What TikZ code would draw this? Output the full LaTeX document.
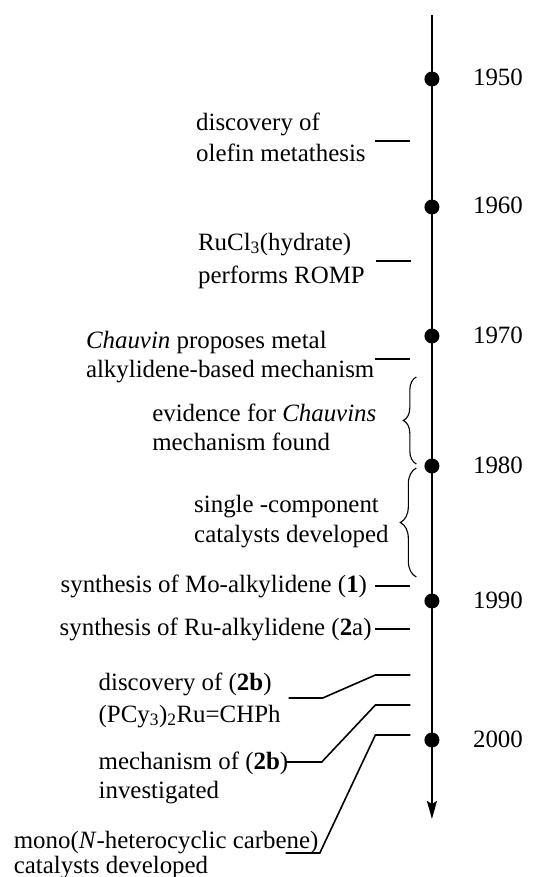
\documentclass[tikz,border=0pt]{standalone}
\usepackage{fontspec}
\setmainfont{Liberation Serif}
\usetikzlibrary{arrows.meta,decorations.pathreplacing}
\begin{document}
\begin{tikzpicture}[x=0.975pt,y=-1pt,
  lbl/.style={font=\fontsize{24.9}{30}\selectfont, inner sep=0pt, anchor=base west},
  tickline/.style={line width=1.6pt},
  yeardot/.style={circle, fill=black, inner sep=0pt, minimum size=15pt},
  axisline/.style={line width=1.8pt, -{Stealth[length=18pt,width=10pt,inset=3pt]}},
  brc/.style={decorate, decoration={brace, amplitude=#1}, line width=1.1pt}]
\useasboundingbox (0,0) rectangle (549.7,877);

% axis
\coordinate (atop) at (443,15);
\coordinate (abot) at (443,819);
\draw[axisline] (atop) -- (abot);

% year dots
\node[yeardot] (d1950) at (443,79) {};
\node[yeardot] (d1960) at (443,207) {};
\node[yeardot] (d1970) at (443,336) {};
\node[yeardot] (d1980) at (443,466) {};
\node[yeardot] (d1990) at (443,601) {};
\node[yeardot] (d2000) at (443,740) {};

% year labels
\node[lbl] (y1950) at (485,86) {1950};
\node[lbl] (y1960) at (485,214) {1960};
\node[lbl] (y1970) at (485,343) {1970};
\node[lbl] (y1980) at (485,473) {1980};
\node[lbl] (y1990) at (485,608) {1990};
\node[lbl] (y2000) at (485,747) {2000};

% event labels
\node[lbl] (e1a) at (201,131) {discovery of};
\node[lbl] (e1b) at (201,162) {olefin metathesis};
\node[lbl] (e2a) at (203,250) {RuCl\textsubscript{3}(hydrate)};
\node[lbl] (e2b) at (203,283) {performs ROMP};
\node[lbl] (e3a) at (88,348) {\textit{Chauvin} proposes metal};
\node[lbl] (e3b) at (88,377) {alkylidene-based mechanism};
\node[lbl] (e4a) at (156,421) {evidence for \textit{Chauvins}};
\node[lbl] (e4b) at (156,450) {mechanism found};
\node[lbl] (e5a) at (199,512) {single -component};
\node[lbl] (e5b) at (199,542) {catalysts developed};
\node[lbl] (e6) at (62,592) {synthesis of Mo-alkylidene (\textbf{1})};
\node[lbl] (e7) at (61,635) {synthesis of Ru-alkylidene (\textbf{2}a)};
\node[lbl] (e8a) at (101,690) {discovery of (\textbf{2b})};
\node[lbl] (e8b) at (101,722) {(PCy\textsubscript{3})\textsubscript{2}Ru=CHPh};
\node[lbl] (e9a) at (101,769) {mechanism of (\textbf{2b})};
\node[lbl] (e9b) at (101,798) {investigated};
\node[lbl] (e10a) at (14,848) {mono(\textit{N}-heterocyclic carbene)};
\node[lbl] (e10b) at (14,873) {catalysts developed};

% simple ticks
\coordinate (k1l) at (385,141); \coordinate (k1r) at (421,141);
\coordinate (k2l) at (386,261); \coordinate (k2r) at (422,261);
\coordinate (k3l) at (385,359); \coordinate (k3r) at (421,359);
\coordinate (k4l) at (385,586); \coordinate (k4r) at (421,586);
\coordinate (k5l) at (385,629); \coordinate (k5r) at (421,629);
\draw[tickline] (k1l) -- (k1r);
\draw[tickline] (k2l) -- (k2r);
\draw[tickline] (k3l) -- (k3r);
\draw[tickline] (k4l) -- (k4r);
\draw[tickline] (k5l) -- (k5r);

% bent ticks
\coordinate (k6r) at (421,675); \coordinate (k6m) at (385,675);
\coordinate (k6s) at (331,698); \coordinate (k6l) at (296,698);
\draw[tickline] (k6r) -- (k6m) -- (k6s) -- (k6l);
\coordinate (k7r) at (421,705); \coordinate (k7m) at (385,705);
\coordinate (k7s) at (330,762); \coordinate (k7l) at (293,762);
\draw[tickline] (k7r) -- (k7m) -- (k7s) -- (k7l);
\coordinate (k8r) at (421,735); \coordinate (k8m) at (385,735);
\coordinate (k8s) at (328,853); \coordinate (k8l) at (293,853);
\draw[tickline] (k8r) -- (k8m) -- (k8s) -- (k8l);

% braces
\coordinate (b1b) at (427,464); \coordinate (b1t) at (427,377);
\coordinate (b2b) at (427,577); \coordinate (b2t) at (427,468);
\draw[brc=13pt] (b1b) -- (b1t);
\draw[brc=16pt] (b2b) -- (b2t);
\end{tikzpicture}
\end{document}
